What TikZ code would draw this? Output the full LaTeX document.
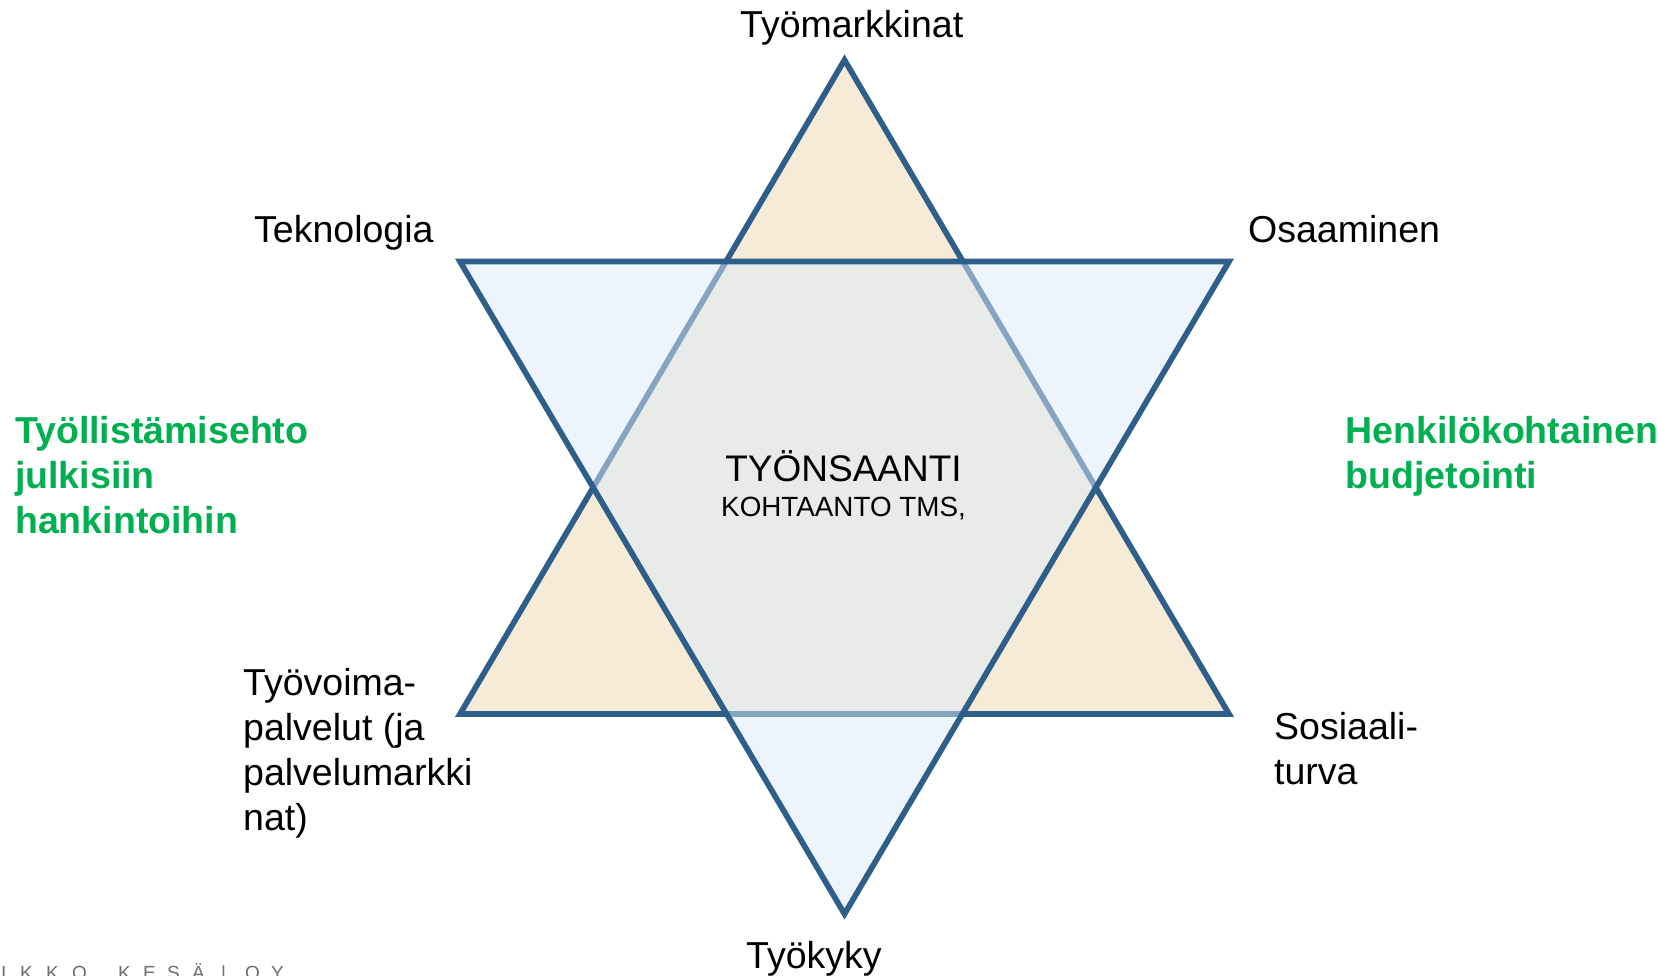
\documentclass[tikz,border=0pt]{standalone}
\usepackage{fontspec}
\setmainfont{Liberation Sans}
\definecolor{edge}{RGB}{46,94,138}
\definecolor{beige}{RGB}{246,235,215}
\definecolor{lblue}{RGB}{221,235,249}
\definecolor{grn}{RGB}{0,176,80}
\definecolor{footgray}{RGB}{110,110,110}
\tikzset{
  lbl/.style={font=\fontsize{37.5}{45}\selectfont, inner sep=0pt, anchor=base west, text=black},
  grntxt/.style={lbl, font=\fontsize{37.5}{45}\selectfont\bfseries, text=grn},
  tri/.style={draw=edge, line width=5.7pt, line join=miter},
  foot/.style={font=\fontsize{19}{22}\selectfont, text=footgray, inner sep=0pt, anchor=base west}
}
\begin{document}
\begin{tikzpicture}[x=1pt,y=-1pt]
\useasboundingbox (0,0) rectangle (1659,975);
\fill[white] (0,0) rectangle (1659,975);
% up triangle
\coordinate (u1) at (844.5,60);
\coordinate (u2) at (460,714);
\coordinate (u3) at (1229,714);
% down triangle
\coordinate (d1) at (460,261.5);
\coordinate (d2) at (1229,261.5);
\coordinate (d3) at (844.5,914);
\draw[tri, fill=beige] (u1) -- (u2) -- (u3) -- cycle;
\fill[lblue, fill opacity=0.5] (d1) -- (d2) -- (d3) -- cycle;
\draw[tri] (d1) -- (d2) -- (d3) -- cycle;
% labels
\node[lbl] (tm) at (740,37) {Työmarkkinat};
\node[lbl] (tek) at (254,242) {Teknologia};
\node[lbl] (osa) at (1248,242.5) {Osaaminen};
\node[lbl] (tv1) at (243,695.5) {Työvoima-};
\node[lbl] (tv2) at (243,740.5) {palvelut (ja};
\node[lbl] (tv3) at (243,785.5) {palvelumarkki};
\node[lbl] (tv4) at (243,830.5) {nat)};
\node[lbl] (so1) at (1274,739.5) {Sosiaali-};
\node[lbl] (so2) at (1274,784.5) {turva};
\node[lbl] (tk) at (746,968) {Työkyky};
\node[grntxt] (g1) at (15,443.5) {Työllistämisehto};
\node[grntxt] (g2) at (15,488.5) {julkisiin};
\node[grntxt] (g3) at (15,533.5) {hankintoihin};
\node[grntxt] (h1) at (1345.5,443.5) {Henkilökohtainen};
\node[grntxt] (h2) at (1345.5,488.5) {budjetointi};
\node[inner sep=0pt, anchor=base, font=\fontsize{37}{40}\selectfont] (ts) at (843.5,481) {TYÖNSAANTI};
\node[inner sep=0pt, anchor=base, font=\fontsize{27.8}{30}\selectfont] (ko) at (843.5,516) {KOHTAANTO TMS,};
% footer (cut off at the bottom edge, as in the reference)
\foreach \c/\x [count=\i] in {I/1,K/20,K/46,O/72,K/118,E/143,S/167,Ä/192,|/221,O/245,Y/271}
  \node[foot] (f\i) at (\x,979.5) {\c};
\end{tikzpicture}
\end{document}
